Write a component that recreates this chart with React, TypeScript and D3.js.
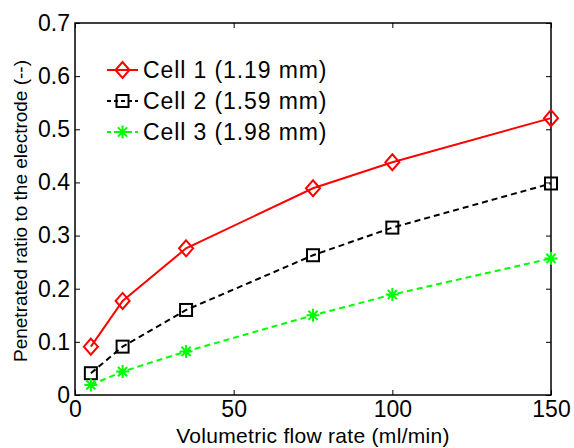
import { useEffect, useRef } from "react";
import * as d3 from "d3";

const flowRates = [5, 15, 35, 75, 100, 150];
const cell1 = [0.091, 0.177, 0.276, 0.389, 0.438, 0.521];
const cell2 = [0.041, 0.091, 0.16, 0.263, 0.315, 0.398];
const cell3 = [0.019, 0.044, 0.082, 0.15, 0.189, 0.257];
const seriesNames = ["Cell 1 (1.19 mm)", "Cell 2 (1.59 mm)", "Cell 3 (1.98 mm)"];
const xTicks = [0, 50, 100, 150];
const yTicks = [0, 0.1, 0.2, 0.3, 0.4, 0.5, 0.6, 0.7];

const W = 574;
const H = 448;
const font = "'Liberation Sans', Arial, Helvetica, sans-serif";

const App = () => {
  const svgRef = useRef(null);

  useEffect(() => {
    const svg = d3.select(svgRef.current);
    svg.selectAll("*").remove();

    const margin = { top: 23, right: 23, bottom: 53, left: 75 };

    const x = d3.scaleLinear().domain([0, 150]).range([margin.left, W - margin.right]);
    const y = d3.scaleLinear().domain([0, 0.7]).range([H - margin.bottom, margin.top]);

    const fmt = (d) => (d === 0 ? "0" : d3.format(".1f")(d));

    const styleAxis = (g) => {
      g.select(".domain").remove();
      g.selectAll("line").attr("stroke", "#000").attr("stroke-width", 1);
      g.selectAll("text")
        .attr("fill", "#000")
        .style("font-family", font)
        .style("font-size", "23px");
    };

    svg
      .append("g")
      .attr("transform", `translate(0,${y(0)})`)
      .call(d3.axisBottom(x).tickValues(xTicks).tickSizeInner(-5).tickSizeOuter(0).tickPadding(6))
      .call(styleAxis);
    svg
      .append("g")
      .attr("transform", `translate(0,${y(0.7)})`)
      .call(d3.axisTop(x).tickValues(xTicks).tickSizeInner(-5).tickSizeOuter(0).tickFormat(() => ""))
      .call(styleAxis);
    svg
      .append("g")
      .attr("transform", `translate(${x(0)},0)`)
      .call(d3.axisLeft(y).tickValues(yTicks).tickFormat(fmt).tickSizeInner(-5).tickSizeOuter(0).tickPadding(5))
      .call(styleAxis);
    svg
      .append("g")
      .attr("transform", `translate(${x(150)},0)`)
      .call(d3.axisRight(y).tickValues(yTicks).tickSizeInner(-5).tickSizeOuter(0).tickFormat(() => ""))
      .call(styleAxis);

    svg
      .append("rect")
      .attr("x", x(0))
      .attr("y", y(0.7))
      .attr("width", x(150) - x(0))
      .attr("height", y(0) - y(0.7))
      .attr("fill", "none")
      .attr("stroke", "#000")
      .attr("stroke-width", 1.5);

    const series = [
      { values: cell1, color: "#ff0000", dash: null, marker: "diamond" },
      { values: cell2, color: "#000000", dash: "6,4", marker: "square" },
      { values: cell3, color: "#00ff00", dash: "6,4", marker: "star" },
    ];

    const drawMarker = (g, type, color) => {
      if (type === "diamond") {
        g.append("path").attr("d", "M0,-8L7,0L0,8L-7,0Z")
          .attr("fill", "none").attr("stroke", color).attr("stroke-width", 2);
      } else if (type === "square") {
        g.append("rect").attr("x", -6).attr("y", -6).attr("width", 12).attr("height", 12)
          .attr("fill", "none").attr("stroke", color).attr("stroke-width", 2);
      } else {
        const r = 6.5;
        const d = d3.range(4).map((i) => {
          const a = (i * Math.PI) / 4;
          return `M${-r * Math.cos(a)},${-r * Math.sin(a)}L${r * Math.cos(a)},${r * Math.sin(a)}`;
        }).join("");
        g.append("path").attr("d", d).attr("stroke", color).attr("stroke-width", 2);
      }
    };

    const line = d3.line().x((d) => x(d[0])).y((d) => y(d[1]));

    series.forEach((s) => {
      const pts = flowRates.map((f, i) => [f, s.values[i]]);
      svg.append("path")
        .attr("d", line(pts))
        .attr("fill", "none")
        .attr("stroke", s.color)
        .attr("stroke-width", 2)
        .attr("stroke-dasharray", s.dash);
      pts.forEach((p) => {
        const g = svg.append("g").attr("transform", `translate(${x(p[0])},${y(p[1])})`);
        drawMarker(g, s.marker, s.color);
      });
    });

    // legend
    const legend = svg.append("g").attr("transform", "translate(107,70)");
    series.forEach((s, i) => {
      const row = legend.append("g").attr("transform", `translate(0,${i * 31})`);
      row.append("line").attr("x1", 0).attr("x2", 31).attr("y1", 0).attr("y2", 0)
        .attr("stroke", s.color).attr("stroke-width", 2).attr("stroke-dasharray", s.dash ? "4,3" : null);
      drawMarker(row.append("g").attr("transform", "translate(15.5,0)"), s.marker, s.color);
      row.append("text")
        .attr("x", 36)
        .attr("y", 0)
        .attr("dy", "0.36em")
        .style("font-family", font)
        .style("font-size", "23px")
        .style("letter-spacing", "0.9px")
        .text(seriesNames[i]);
    });

    svg.append("text")
      .attr("x", (x(0) + x(150)) / 2)
      .attr("y", 443)
      .attr("text-anchor", "middle")
      .style("font-family", font)
      .style("font-size", "21px")
      .style("letter-spacing", "0.3px")
      .text("Volumetric flow rate (ml/min)");

    svg.append("text")
      .attr("transform", `translate(27,211) rotate(-90)`)
      .attr("text-anchor", "middle")
      .style("font-family", font)
      .style("font-size", "19px")
      .text("Penetrated ratio to the electrode (--)");
  }, []);

  return (
    <svg
      ref={svgRef}
      width={W}
      height={H}
      style={{ position: "absolute", left: 0, top: 0, background: "#fff" }}
    />
  );
};

export default App;
